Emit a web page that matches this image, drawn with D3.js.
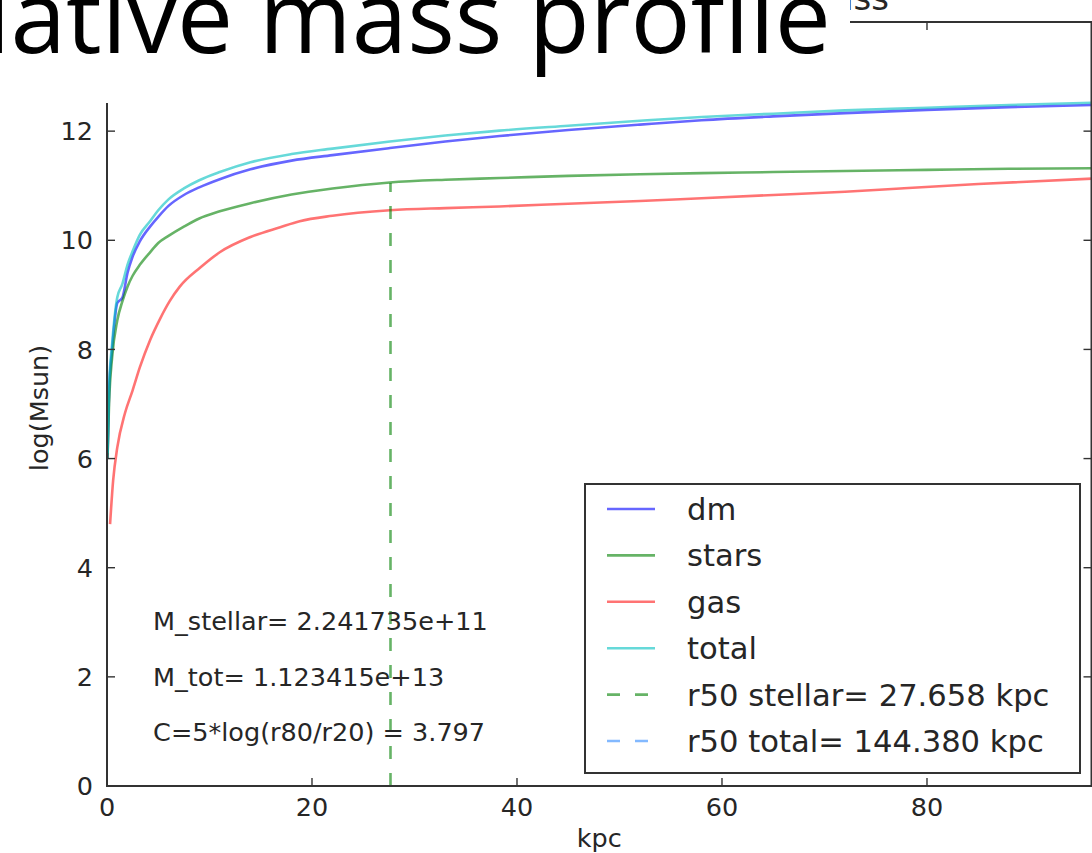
<!DOCTYPE html>
<html>
<head>
<meta charset="utf-8">
<script src="https://cdn.jsdelivr.net/npm/d3@7"></script>
<style>
  html, body { margin: 0; padding: 0; background: #fff; overflow: hidden; }
  svg { display: block; }
  text { font-family: "DejaVu Sans", sans-serif; fill: #262626; }
</style>
</head>
<body>
<svg id="chart" width="1092" height="853"></svg>
<script>
// Cumulative mass profiles (log10 of enclosed mass in Msun) vs radius in kpc
const radiusKpc = [0.05, 0.2, 0.5, 1.0, 1.5, 2.0, 2.5, 3.2, 4.2, 5.0, 6.0, 7.5, 9.0, 11, 14, 18, 22, 27.6, 33, 38.3, 45, 52, 58, 65, 72, 80, 88, 96.1];
const logDm    = [6.0, 7.2, 8.0, 8.85, 8.95, 9.4, 9.7, 9.98, 10.25, 10.43, 10.63, 10.83, 10.97, 11.12, 11.3, 11.46, 11.56, 11.69, 11.81, 11.91, 12.02, 12.12, 12.2, 12.27, 12.33, 12.39, 12.44, 12.48];
const logStars = [6.0, 7.0, 7.86, 8.53, 8.88, 9.15, 9.35, 9.55, 9.78, 9.95, 10.08, 10.25, 10.4, 10.53, 10.68, 10.84, 10.95, 11.06, 11.11, 11.14, 11.18, 11.21, 11.23, 11.25, 11.27, 11.29, 11.31, 11.32];
const logTotal = [6.1, 7.3, 8.1, 8.95, 9.2, 9.55, 9.8, 10.1, 10.35, 10.55, 10.75, 10.95, 11.1, 11.25, 11.43, 11.58, 11.68, 11.81, 11.92, 12.01, 12.1, 12.19, 12.26, 12.32, 12.38, 12.43, 12.48, 12.52];
const gasRadiusKpc = [0.3, 0.6, 1.0, 1.75, 2.5, 3.2, 4.2, 5.2, 6.1, 7.1, 9.1, 11, 14, 16.9, 18.8, 22, 27.6, 33, 38.3, 45, 52, 58, 65, 72, 77.4, 85, 96.1];
const logGas   = [4.8, 5.6, 6.2, 6.83, 7.25, 7.67, 8.17, 8.57, 8.88, 9.15, 9.5, 9.78, 10.06, 10.24, 10.35, 10.45, 10.55, 10.59, 10.62, 10.67, 10.72, 10.77, 10.83, 10.89, 10.95, 11.03, 11.13];

// Summary quantities
const mStellar = 2.241735e11;
const mTot = 1.123415e13;
const r50Stellar = 27.658;
const r50Total = 144.380;
const concentration = 3.797;

// Axis ticks
const xTicks = [0, 20, 40, 60, 80];
const yTicks = [0, 2, 4, 6, 8, 10, 12, 14];

const svg = d3.select("#chart");
const W = 1092, H = 853;
const plot = { left: 107, right: 1091.5, top: 22, bottom: 786 };

const x = d3.scaleLinear().domain([0, 96.05]).range([plot.left, plot.right]);
const y = d3.scaleLinear().domain([0, 14]).range([plot.bottom, plot.top]);

svg.append("rect").attr("width", W).attr("height", H).attr("fill", "#fff");

svg.append("defs").append("clipPath").attr("id", "plotClip")
  .append("rect")
  .attr("x", plot.left).attr("y", plot.top)
  .attr("width", plot.right - plot.left).attr("height", plot.bottom - plot.top);

const gPlot = svg.append("g").attr("clip-path", "url(#plotClip)");

const series = [
  { name: "dm",    r: radiusKpc,    v: logDm,    color: "#0000ff", opacity: 0.6 },
  { name: "stars", r: radiusKpc,    v: logStars, color: "#008000", opacity: 0.6 },
  { name: "gas",   r: gasRadiusKpc, v: logGas,   color: "#ff0000", opacity: 0.55 },
  { name: "total", r: radiusKpc,    v: logTotal, color: "#00bfbf", opacity: 0.6 }
];

const line = d3.line().x(d => x(d[0])).y(d => y(d[1])).curve(d3.curveMonotoneX);

series.forEach(s => {
  gPlot.append("path")
    .datum(s.r.map((r, i) => [r, s.v[i]]))
    .attr("d", line)
    .attr("fill", "none")
    .attr("stroke", s.color)
    .attr("stroke-opacity", s.opacity)
    .attr("stroke-width", 2.6)
    .attr("stroke-linejoin", "round");
});

// Half-mass radii: vertical dashed markers up to log10(M/2)
const halfMarks = [
  { name: "r50 stellar= " + r50Stellar.toFixed(3) + " kpc", r: r50Stellar, top: Math.log10(mStellar / 2), color: "#008000", opacity: 0.6 },
  { name: "r50 total= " + r50Total.toFixed(3) + " kpc",   r: r50Total,   top: Math.log10(mTot / 2),     color: "#1e7fff", opacity: 0.55 }
];
halfMarks.forEach(m => {
  gPlot.append("line")
    .attr("x1", x(m.r)).attr("x2", x(m.r))
    .attr("y1", y(0)).attr("y2", y(m.top))
    .attr("stroke", m.color).attr("stroke-opacity", m.opacity)
    .attr("stroke-width", 2.6)
    .attr("stroke-dasharray", "13,14");
});

// Axes frame with inward ticks on all four sides
const axisColor = "#333";
const tickLen = 8;
const frame = svg.append("g");
frame.append("rect")
  .attr("x", plot.left).attr("y", plot.top)
  .attr("width", plot.right - plot.left).attr("height", plot.bottom - plot.top)
  .attr("fill", "none").attr("stroke", axisColor).attr("stroke-width", 2);

xTicks.forEach(t => {
  frame.append("line").attr("x1", x(t)).attr("x2", x(t))
    .attr("y1", plot.bottom).attr("y2", plot.bottom - tickLen)
    .attr("stroke", axisColor).attr("stroke-width", 1.4);
  frame.append("line").attr("x1", x(t)).attr("x2", x(t))
    .attr("y1", plot.top).attr("y2", plot.top + tickLen)
    .attr("stroke", axisColor).attr("stroke-width", 1.4);
  frame.append("text").attr("x", x(t)).attr("y", plot.bottom + 30)
    .attr("text-anchor", "middle").attr("font-size", 25.5).text(t);
});
yTicks.forEach(t => {
  frame.append("line").attr("x1", plot.left).attr("x2", plot.left + tickLen)
    .attr("y1", y(t)).attr("y2", y(t))
    .attr("stroke", axisColor).attr("stroke-width", 1.4);
  frame.append("line").attr("x1", plot.right).attr("x2", plot.right - tickLen)
    .attr("y1", y(t)).attr("y2", y(t))
    .attr("stroke", axisColor).attr("stroke-width", 1.4);
  frame.append("text").attr("x", plot.left - 14).attr("y", y(t)).attr("dy", "0.36em")
    .attr("text-anchor", "end").attr("font-size", 25.5).text(t);
});

svg.append("text").attr("x", (plot.left + plot.right) / 2).attr("y", 847)
  .attr("text-anchor", "middle").attr("font-size", 25.5).text("kpc");
svg.append("text")
  .attr("transform", `translate(48,${(plot.top + plot.bottom) / 2 + 4}) rotate(-90)`)
  .attr("text-anchor", "middle").attr("font-size", 25.5).text("log(Msun)");

// Annotations inside the axes
const notes = [
  { text: "M_stellar= " + mStellar.toExponential(6), yv: 2.85 },
  { text: "M_tot= " + mTot.toExponential(6), yv: 1.84 },
  { text: "C=5*log(r80/r20) = " + concentration.toFixed(3), yv: 0.83 }
];
notes.forEach(n => {
  svg.append("text").attr("x", x(4.5)).attr("y", y(n.yv))
    .attr("font-size", 25.5).text(n.text);
});

// Legend
const legend = svg.append("g");
legend.append("rect").attr("x", 585).attr("y", 484).attr("width", 495).attr("height", 289)
  .attr("fill", "#fff").attr("stroke", axisColor).attr("stroke-width", 2);
const legendItems = series.map(s => ({ name: s.name, color: s.color, opacity: s.opacity, dashed: false }))
  .concat(halfMarks.map(m => ({ name: m.name, color: m.color, opacity: m.opacity, dashed: true })));
legendItems.forEach((d, i) => {
  const ly = 509 + i * 46.4;
  legend.append("line").attr("x1", 607).attr("x2", 655).attr("y1", ly).attr("y2", ly)
    .attr("stroke", d.color).attr("stroke-opacity", d.opacity).attr("stroke-width", 2.6)
    .attr("stroke-dasharray", d.dashed ? "13,15" : null);
  legend.append("text").attr("x", 687).attr("y", ly + 11)
    .attr("font-size", 30.6).text(d.name);
});

// Axes title above the frame
svg.append("text").attr("x", 889).attr("y", 10).attr("text-anchor", "end")
  .attr("font-size", 34).text("Cumulative mass");

// Slide heading on a white panel over the upper-left corner
svg.append("rect").attr("x", 0).attr("y", 0).attr("width", 850).attr("height", 103).attr("fill", "#fff");
svg.append("text").attr("x", 831).attr("y", 53).attr("text-anchor", "end")
  .style("font-family", "'Open Sans', sans-serif").style("fill", "#000")
  .style("font-variant-ligatures", "none")
  .attr("font-size", 100).text("Cumulative mass profile");
</script>
</body>
</html>
